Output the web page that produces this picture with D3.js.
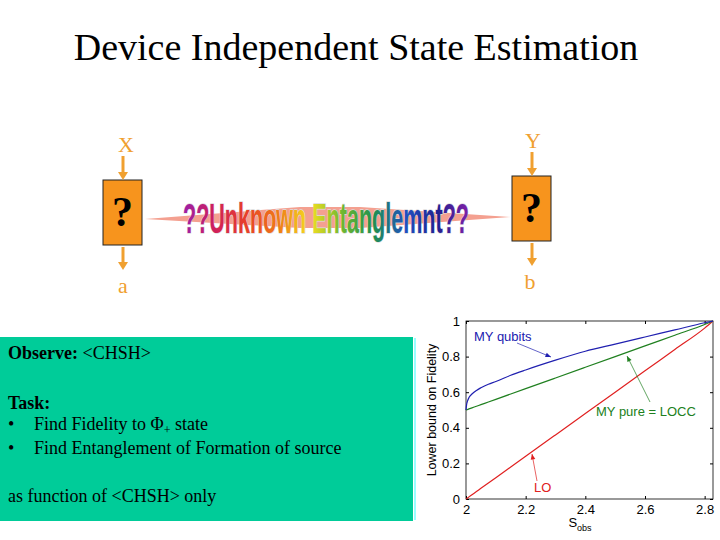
<!DOCTYPE html>
<html><head><meta charset="utf-8">
<script src="https://cdn.jsdelivr.net/npm/d3@7"></script>
<style>body{margin:0;background:#fff}</style>
</head><body>
<svg id="slide" width="720" height="540"></svg>
<script>
// data
var sObs = [2, 2.002, 2.005, 2.01, 2.02, 2.035, 2.05, 2.075, 2.1, 2.15, 2.2, 2.3, 2.4, 2.5, 2.6, 2.7, 2.8, 2.828];
var fidQubits = [0.5, 0.53, 0.55, 0.57, 0.59, 0.61, 0.625, 0.645, 0.66, 0.695, 0.725, 0.78, 0.83, 0.87, 0.91, 0.95, 0.99, 1];
var fidPure = [0.5, 0.501, 0.503, 0.506, 0.512, 0.521, 0.53, 0.545, 0.56, 0.59, 0.62, 0.68, 0.74, 0.80, 0.86, 0.92, 0.98, 1];
var fidLO = [0, 0.002, 0.006, 0.012, 0.024, 0.042, 0.06, 0.09, 0.12, 0.18, 0.24, 0.36, 0.48, 0.60, 0.72, 0.84, 0.96, 1];
var xTicks = [2, 2.2, 2.4, 2.6, 2.8];
var yTicks = [0, 0.2, 0.4, 0.6, 0.8, 1];
var bannerText = "??Unknown Entanglemnt??";
var bannerStops = ["#9b1fa8", "#d0205a", "#e8402a", "#f07a18", "#f5e020", "#70b830", "#209050", "#2050c0", "#202090", "#8020a8"];

var svg = d3.select("#slide");
var serif = "'Liberation Serif', 'Times New Roman', serif";
var sans = "'Liberation Sans', Arial, sans-serif";

svg.append("text").attr("x", 356).attr("y", 60).attr("text-anchor", "middle")
    .style("font", "38px " + serif).text("Device Independent State Estimation");

// ---- diagram ----
var orange = "#f0a030";
function arrow(x, y1, y2) {
    svg.append("line").attr("x1", x).attr("y1", y1).attr("x2", x).attr("y2", y2 - 6)
        .style("stroke", orange).style("stroke-width", 3);
    svg.append("path").attr("d", "M" + (x - 5) + "," + (y2 - 8) + "L" + (x + 5) + "," + (y2 - 8) + "L" + x + "," + y2 + "Z")
        .style("fill", orange);
}
svg.append("path").attr("d", "M145,219 L300,207 L360,207 L510,217 L360,228 L300,228 Z").style("fill", "#f4a090");

[[103, 180, "X", "a", 126], [512, 176, "Y", "b", 533]].forEach(function (b) {
    svg.append("rect").attr("x", b[0]).attr("y", b[1]).attr("width", 39).attr("height", 65)
        .style("fill", "#f7941d").style("stroke", "#222").style("stroke-width", 1);
    svg.append("text").attr("x", b[0] + 19.5).attr("y", b[1] + 46).attr("text-anchor", "middle")
        .style("font", "bold 42px " + serif).text("?");
    svg.append("text").attr("x", b[4]).attr("y", b[1] - 28).attr("text-anchor", "middle")
        .style("font", "22px " + serif).style("fill", orange).text(b[2]);
    arrow(b[0] + 20, b[1] - 24, b[1]);
    arrow(b[0] + 20, b[1] + 67, b[1] + 90);
    svg.append("text").attr("x", b[4] - 3).attr("y", b[1] + 113).attr("text-anchor", "middle")
        .style("font", "22px " + serif).style("fill", orange).text(b[3]);
});

var grad = svg.append("defs").append("linearGradient").attr("id", "rainbow")
    .attr("gradientUnits", "userSpaceOnUse").attr("x1", 0).attr("x2", 286).attr("y1", 0).attr("y2", 0);
grad.selectAll("stop").data(bannerStops).enter().append("stop")
    .attr("offset", function (d, i) { return i / (bannerStops.length - 1); })
    .attr("stop-color", function (d) { return d; });
svg.append("g").attr("transform", "translate(183,233) scale(1,1.8)")
    .append("text").attr("x", 0).attr("y", 0)
    .style("font", "bold 24px 'Liberation Sans Narrow', " + sans)
    .attr("textLength", 286).attr("lengthAdjust", "spacingAndGlyphs")
    .style("fill", "url(#rainbow)")
    .style("stroke", "#ddd").style("stroke-width", 0.8).style("paint-order", "stroke")
    .text(bannerText);

// ---- text box ----
svg.append("rect").attr("x", 0).attr("y", 337).attr("width", 413).attr("height", 184).style("fill", "#00cc99");
function txt(x, y, s, bold) {
    return svg.append("text").attr("x", x).attr("y", y).style("font", (bold ? "bold " : "") + "18px " + serif).text(s);
}
var t1 = txt(8, 359, "Observe: ", true);
t1.append("tspan").style("font-weight", "normal").text("<CHSH>");
txt(8, 409, "Task:", true);
txt(8, 430, "\u2022");
var t3 = txt(34, 430, "Find Fidelity to \u03a6");
t3.append("tspan").attr("dy", 4).style("font-size", "12px").text("+");
t3.append("tspan").attr("dy", -4).text(" state");
txt(8, 454, "\u2022");
txt(34, 454, "Find Entanglement of Formation of source");
txt(8, 502, "as function of <CHSH> only");
svg.append("line").attr("x1", 415).attr("y1", 338).attr("x2", 415).attr("y2", 520)
    .style("stroke", "#9ff").style("stroke-width", 2);

// ---- chart ----
var x = d3.scaleLinear().domain([2, 2.828]).range([466, 713]);
var y = d3.scaleLinear().domain([0, 1]).range([499, 321]);
var g = svg.append("g");
g.append("rect").attr("x", 466).attr("y", 321).attr("width", 247).attr("height", 178)
    .style("fill", "#fff").style("stroke", "#000").style("stroke-width", 0.8);
g.append("g").attr("transform", "translate(0,499)")
    .call(d3.axisBottom(x).tickValues(xTicks).tickSize(-3).tickPadding(6).tickFormat(d3.format("")))
    .call(function (a) { a.select(".domain").remove(); a.selectAll("text").style("font", "13px " + sans); });
g.append("g").attr("transform", "translate(466,0)")
    .call(d3.axisLeft(y).tickValues(yTicks).tickSize(-3).tickPadding(6).tickFormat(d3.format("")))
    .call(function (a) { a.select(".domain").remove(); a.selectAll("text").style("font", "13px " + sans); });
g.append("g").attr("transform", "translate(713,0)")
    .call(d3.axisRight(y).tickValues(yTicks).tickSize(-3).tickFormat(""))
    .call(function (a) { a.select(".domain").remove(); });
g.append("g").attr("transform", "translate(0,321)")
    .call(d3.axisTop(x).tickValues(xTicks).tickSize(-3).tickFormat(""))
    .call(function (a) { a.select(".domain").remove(); });

var line = d3.line().curve(d3.curveMonotoneX).x(function (d) { return x(d[0]); }).y(function (d) { return y(d[1]); });
[[fidLO, "#e02020"], [fidPure, "#208020"], [fidQubits, "#2020b0"]].forEach(function (s) {
    g.append("path").datum(d3.zip(sObs, s[0])).attr("d", line)
        .style("fill", "none").style("stroke", s[1]).style("stroke-width", 1.2);
});

g.append("text").attr("transform", "translate(436,410) rotate(-90)").attr("text-anchor", "middle")
    .style("font", "12.5px " + sans).text("Lower bound on Fidelity");
var xl = g.append("text").attr("x", 580).attr("y", 527).attr("text-anchor", "middle").style("font", "13px " + sans);
xl.append("tspan").text("S");
xl.append("tspan").attr("dy", 4).style("font-size", "9px").text("obs");

function note(tx, ty, label, col, x1, y1, x2, y2) {
    g.append("text").attr("x", tx).attr("y", ty).style("font", "13px " + sans).style("fill", col).text(label);
    g.append("line").attr("x1", x1).attr("y1", y1).attr("x2", x2).attr("y2", y2)
        .style("stroke", col).style("stroke-width", 0.7);
    var ang = Math.atan2(y2 - y1, x2 - x1), L = 6;
    g.append("path").attr("d", "M" + x2 + "," + y2 +
        "L" + (x2 - L * Math.cos(ang - 0.4)) + "," + (y2 - L * Math.sin(ang - 0.4)) +
        "L" + (x2 - L * Math.cos(ang + 0.4)) + "," + (y2 - L * Math.sin(ang + 0.4)) + "Z").style("fill", col);
}
note(474, 341, "MY qubits", "#2020b0", 517, 343, 551, 357);
note(596, 416, "MY pure = LOCC", "#208020", 650, 402, 627, 356);
note(534, 492, "LO", "#e02020", 537, 481, 532, 454);
</script>
</body></html>
